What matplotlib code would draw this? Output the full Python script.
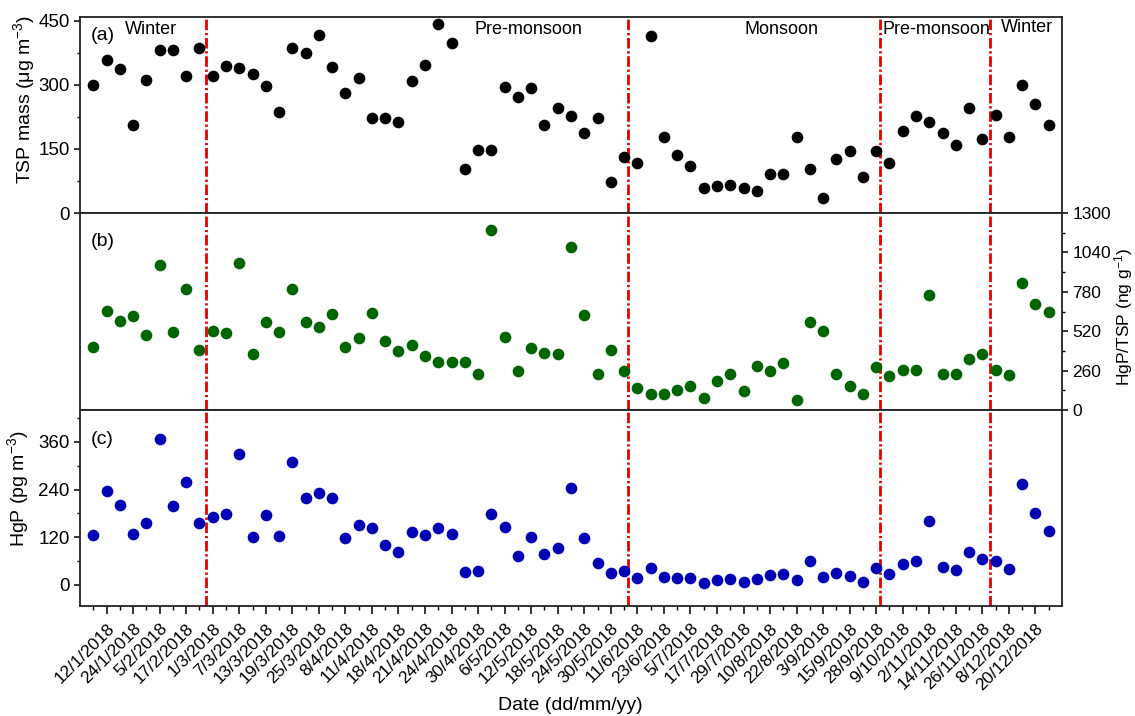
import matplotlib
matplotlib.use('Agg')
import matplotlib.pyplot as plt
from matplotlib.ticker import MultipleLocator, FixedLocator

plt.rcParams['font.family'] = ['Liberation Sans', 'DejaVu Sans']
plt.rcParams['mathtext.fontset'] = 'custom'
plt.rcParams['mathtext.rm'] = 'Liberation Sans'
plt.rcParams['mathtext.it'] = 'Liberation Sans:italic'
plt.rcParams['mathtext.bf'] = 'Liberation Sans:bold'

# ---------------- data ----------------
date_labels = ["12/1/2018", "24/1/2018", "5/2/2018", "17/2/2018", "1/3/2018", "7/3/2018",
               "13/3/2018", "19/3/2018", "25/3/2018", "8/4/2018", "11/4/2018", "18/4/2018",
               "21/4/2018", "24/4/2018", "30/4/2018", "6/5/2018", "12/5/2018", "18/5/2018",
               "24/5/2018", "30/5/2018", "11/6/2018", "23/6/2018", "5/7/2018", "17/7/2018",
               "29/7/2018", "10/8/2018", "22/8/2018", "3/9/2018", "15/9/2018", "28/9/2018",
               "9/10/2018", "2/11/2018", "14/11/2018", "26/11/2018", "8/12/2018", "20/12/2018"]

tsp_mass = [300, 359, 337, 205, 312, 382, 382, 322, 386, 322, 345, 339, 325, 298, 237,
            386, 374, 417, 343, 281, 316, 222, 222, 214, 308, 347, 442, 399, 103, 148,
            148, 296, 271, 292, 206, 247, 226, 187, 222, 73, 132, 117, 415, 179, 136,
            109, 59, 64, 66, 58, 52, 91, 91, 179, 103, 36, 126, 146, 84, 146,
            118, 192, 226, 212, 188, 159, 247, 174, 230, 177, 300, 256, 207]

hgp_per_tsp = [414, 655, 589, 622, 493, 959, 515, 796, 394, 521, 508, 970, 367, 583, 513,
               796, 579, 550, 634, 414, 475, 642, 454, 389, 431, 359, 317, 317, 317, 235,
               1188, 484, 260, 409, 378, 370, 1074, 627, 238, 394, 257, 143, 103, 108, 132,
               158, 77, 189, 238, 125, 290, 257, 310, 68, 581, 519, 238, 156, 103, 284,
               227, 264, 266, 761, 240, 240, 334, 370, 266, 231, 838, 702, 649]

hgp = [126, 236, 200, 129, 155, 368, 198, 258, 155, 170, 178, 330, 121, 175, 123,
       309, 218, 231, 218, 117, 151, 144, 101, 84, 133, 126, 142, 129, 33, 34,
       178, 146, 72, 121, 79, 94, 245, 119, 54, 29, 34, 17, 43, 19, 18,
       18, 4, 12, 15, 8, 15, 24, 28, 13, 61, 19, 30, 23, 8, 42,
       28, 52, 60, 162, 46, 38, 83, 64, 61, 40, 253, 181, 136]

season_names = ["Winter", "Pre-monsoon", "Monsoon", "Pre-monsoon", "Winter"]
season_breaks = [9.5, 41.3, 60.3, 68.6]

x = list(range(1, len(tsp_mass) + 1))
major_x = list(range(2, 73, 2))
minor_x = list(range(1, 74, 2))

# ---------------- figure ----------------
W, H = 1135, 716
fig = plt.figure(figsize=(W / 100, H / 100), dpi=100)

left = 80 / W
width = (1062 - 80) / W

def box(top_px, bot_px):
    return [left, 1 - bot_px / H, width, (bot_px - top_px) / H]

ax_a = fig.add_axes(box(17, 213))
ax_b = fig.add_axes(box(213, 410))
ax_c = fig.add_axes(box(410, 606))

red = '#e60000'
dash = (0, (3.8, 1.0, 0.8, 1.0))
ms = 8.4

for ax in (ax_a, ax_b, ax_c):
    ax.set_xlim(0, 74)
    ax.xaxis.set_major_locator(FixedLocator(major_x))
    ax.xaxis.set_minor_locator(FixedLocator(minor_x))
    ax.tick_params(axis='x', which='major', direction='out', length=5.5, width=1.1,
                   top=False, bottom=True, labelbottom=False)
    ax.tick_params(axis='x', which='minor', direction='out', length=3, width=1.0,
                   top=False, bottom=True)
    for s in ax.spines.values():
        s.set_linewidth(1.3)
        s.set_color('#222222')
    for b in season_breaks:
        ax.axvline(b, color=red, lw=2.0, linestyle=dash, zorder=1)

# panel (a)
ax_a.plot(x, tsp_mass, 'o', color='black', ms=ms, mec='none', zorder=3)
ax_a.set_ylim(0, 459)
ax_a.yaxis.set_major_locator(MultipleLocator(150))
ax_a.yaxis.set_minor_locator(MultipleLocator(75))
ax_a.tick_params(axis='y', which='major', direction='out', length=4.5, width=1.1,
                 labelsize=13.5, pad=3, right=False)
ax_a.tick_params(axis='y', which='minor', direction='out', length=2.5, width=1.0, right=False)
ax_a.set_ylabel('TSP mass (μg m$^{-3}$)', fontsize=14)
ax_a.yaxis.set_label_coords(-0.044, 0.58)

# panel (b)
ax_b.plot(x, hgp_per_tsp, 'o', color='#006400', ms=ms, mec='none', zorder=3)
ax_b.set_ylim(0, 1300)
ax_b.yaxis.tick_right()
ax_b.yaxis.set_label_position('right')
ax_b.yaxis.set_major_locator(MultipleLocator(260))
ax_b.yaxis.set_minor_locator(MultipleLocator(130))
ax_b.tick_params(axis='y', which='major', direction='out', length=4.5, width=1.1,
                 labelsize=12.5, pad=3, left=False, right=True)
ax_b.tick_params(axis='y', which='minor', direction='out', length=2.5, width=1.0,
                 left=False, right=True)
ax_b.set_ylabel('HgP/TSP (ng g$^{-1}$)', fontsize=12.5, rotation=90)
ax_b.yaxis.set_label_coords(1.051, 0.47)

# panel (c)
ax_c.plot(x, hgp, 'o', color='#0000b4', ms=ms, mec='none', zorder=3)
ax_c.set_ylim(-53, 440)
ax_c.yaxis.set_major_locator(MultipleLocator(120))
ax_c.yaxis.set_minor_locator(MultipleLocator(60))
ax_c.tick_params(axis='y', which='major', direction='out', length=4.5, width=1.1,
                 labelsize=13.5, pad=3, right=False)
ax_c.tick_params(axis='y', which='minor', direction='out', length=2.5, width=1.0, right=False)
ax_c.set_ylabel('HgP (pg m$^{-3}$)', fontsize=14)
ax_c.yaxis.set_label_coords(-0.05, 0.60)

ax_c.tick_params(axis='x', which='major', labelbottom=True, labelsize=12.5, pad=5)
ax_c.set_xticklabels(date_labels, rotation=45, ha='right', va='top', rotation_mode='anchor')

fig.text(570 / W, 1 - 705 / H, 'Date (dd/mm/yy)', fontsize=14, ha='center', va='center')

# panel letters
ax_a.text(0.011, 0.905, '(a)', transform=ax_a.transAxes, fontsize=14, va='center', ha='left')
ax_b.text(0.011, 0.853, '(b)', transform=ax_b.transAxes, fontsize=14, va='center', ha='left')
ax_c.text(0.011, 0.852, '(c)', transform=ax_c.transAxes, fontsize=14, va='center', ha='left')

# season labels
tr = ax_a.get_xaxis_transform()
ax_a.text(3.4, 0.934, season_names[0], transform=tr, fontsize=13, ha='left', va='center')
ax_a.text(33.8, 0.934, season_names[1], transform=tr, fontsize=13, ha='center', va='center')
ax_a.text(52.9, 0.934, season_names[2], transform=tr, fontsize=13, ha='center', va='center')
ax_a.text(60.5, 0.934, season_names[3], transform=tr, fontsize=13, ha='left', va='center')
ax_a.text(69.4, 0.944, season_names[4], transform=tr, fontsize=13, ha='left', va='center')

fig.savefig('out.png', dpi=100)
